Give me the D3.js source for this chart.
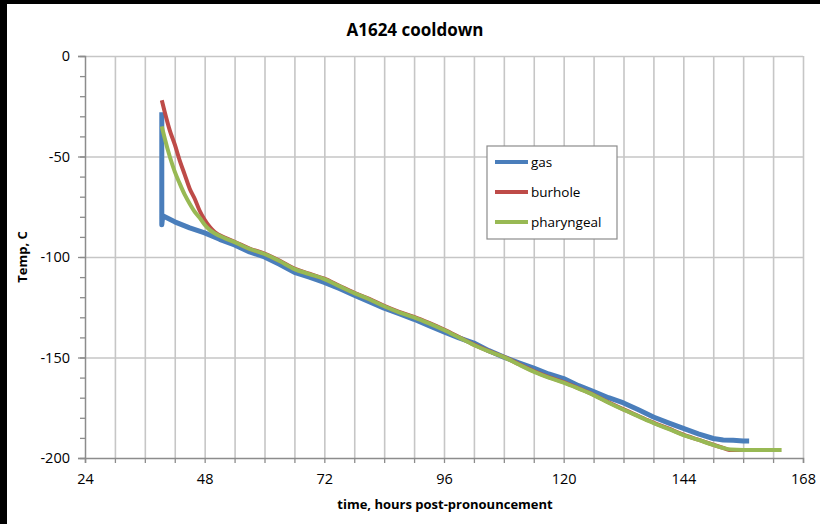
<!DOCTYPE html>
<html>
<head>
<meta charset="utf-8">
<script src="https://cdn.jsdelivr.net/npm/d3@7"></script>
<style>
  html, body { margin: 0; padding: 0; background: #fff; }
  svg { display: block; }
  text { font-family: "Open Sans", Lato, sans-serif; fill: #000; }
</style>
</head>
<body>
<svg id="chart" width="820" height="524"></svg>
<script>
// ---- data (hours post-pronouncement, temperature °C) ----
const seriesNames = ["gas", "burhole", "pharyngeal"];
const seriesColors = ["#4A7EBB", "#BE4B48", "#98B954"];

const gasHours = [39.4, 39.4, 39.6, 42, 45, 48, 51, 54, 57, 60, 63, 66, 69, 72, 75, 78, 81, 84, 87, 90, 93, 96, 99, 102, 105, 108, 111, 114, 117, 120, 123, 126, 129, 132, 135, 138, 141, 144, 147, 150, 152, 154, 156, 157.2];
const gasTemp  = [-28, -84, -79.5, -82.5, -85.5, -88, -91.2, -94, -97.5, -100, -103.6, -107.6, -110, -112.6, -115.7, -119, -122.2, -125.5, -128.2, -131, -134.2, -137.3, -140.2, -142.8, -146.6, -149.8, -152.6, -155.3, -158.2, -160.5, -164, -167, -170, -172.6, -176, -179.6, -182.5, -185.3, -188, -190.3, -191, -191.2, -191.5, -191.5];

const burholeHours = [39.4, 40, 41, 42, 43, 44, 45, 46, 47, 48, 49, 50, 52, 54, 57, 60, 63, 66, 69, 72, 75, 78, 81, 84, 87, 90, 93, 96, 99, 102, 105, 108, 111, 114, 117, 120, 123, 126, 129, 132, 135, 138, 141, 144, 147, 150, 152, 153.2, 156, 160, 163.6];
const burholeTemp  = [-22, -28, -37, -44, -52, -59, -66, -71, -77, -81.5, -85, -87.6, -90.3, -92.4, -95.8, -98.3, -101.8, -105.8, -108.3, -110.8, -114.3, -117.8, -120.8, -124.3, -127.3, -129.8, -132.8, -136.1, -139.8, -143.6, -146.8, -149.7, -153.3, -156.8, -159.8, -162.3, -165.3, -168.5, -172.3, -175.8, -179.1, -182.4, -185.3, -188.4, -190.9, -193.4, -195, -196, -196, -196, -196];

const pharyngealHours = [39.4, 40, 41, 42, 43, 44, 45, 46, 47, 48, 49, 50, 52, 54, 57, 60, 63, 66, 69, 72, 75, 78, 81, 84, 87, 90, 93, 96, 99, 102, 105, 108, 111, 114, 117, 120, 123, 126, 129, 132, 135, 138, 141, 144, 147, 150, 152, 153.5, 156, 160, 163.7];
const pharyngealTemp  = [-35, -41, -50, -57.5, -63.5, -69, -73.5, -77.5, -80.5, -84, -86.5, -88.2, -90.6, -92.6, -96, -98.5, -102, -106, -108.5, -111, -114.5, -118, -121, -124.5, -127.5, -130, -133, -136.3, -140, -143.8, -147, -149.8, -153.5, -157, -160, -162.5, -165.5, -168.7, -172.5, -176, -179.3, -182.6, -185.5, -188.6, -191, -193.5, -195, -195.8, -196, -196, -196];

const xTickLabels = [24, 48, 72, 96, 120, 144, 168];
const yTickLabels = [0, -50, -100, -150, -200];

const titleText = "A1624 cooldown";
const xTitle = "time, hours post-pronouncement";
const yTitle = "Temp, C";

// ---- layout ----
const svg = d3.select("#chart");
const W = 820, H = 524;
const plot = { left: 85, right: 803, top: 56, bottom: 458 };
const FONT = "'Open Sans', Lato, sans-serif";

// black frame strips seen at top/left of the reference
svg.append("rect").attr("x", 0).attr("y", 0).attr("width", W).attr("height", H).attr("fill", "#fff");
svg.append("rect").attr("x", 0).attr("y", 0).attr("width", W).attr("height", 4).attr("fill", "#000");
svg.append("rect").attr("x", 0).attr("y", 0).attr("width", 7).attr("height", H).attr("fill", "#000");

const x = d3.scaleLinear().domain([24, 168]).range([plot.left, plot.right]);
const y = d3.scaleLinear().domain([-200, 0]).range([plot.bottom, plot.top]);

const gridColor = "#c6c6c6";
const axisColor = "#8c8c8c";

// vertical gridlines every 6 h
const xMinor = d3.range(24, 168 + 0.01, 6);
svg.append("g")
  .attr("transform", `translate(0,${plot.bottom})`)
  .call(d3.axisBottom(x).tickValues(xMinor.slice(1)).tickSize(-(plot.bottom - plot.top)).tickFormat(""))
  .call(g => g.select(".domain").remove())
  .call(g => g.selectAll("line").attr("stroke", gridColor).attr("stroke-width", 1.6));

// horizontal gridlines every 50
svg.append("g")
  .attr("transform", `translate(${plot.left},0)`)
  .call(d3.axisLeft(y).tickValues(yTickLabels.filter(v => v !== -200)).tickSize(-(plot.right - plot.left)).tickFormat(""))
  .call(g => g.select(".domain").remove())
  .call(g => g.selectAll("line").attr("stroke", gridColor).attr("stroke-width", 1.6));

// y minor ticks every 10
svg.append("g")
  .attr("transform", `translate(${plot.left},0)`)
  .call(d3.axisLeft(y).tickValues(d3.range(-200, 1, 10)).tickSize(5).tickFormat(""))
  .call(g => g.select(".domain").remove())
  .call(g => g.selectAll("line").attr("stroke", axisColor).attr("stroke-width", 1.3));

// y axis with major labels
svg.append("g")
  .attr("transform", `translate(${plot.left},0)`)
  .call(d3.axisLeft(y).tickValues(yTickLabels).tickSize(7).tickPadding(8).tickFormat(d => d))
  .call(g => g.select(".domain").attr("stroke", axisColor).attr("stroke-width", 1.5))
  .call(g => g.selectAll("line").attr("stroke", axisColor).attr("stroke-width", 1.3))
  .call(g => g.selectAll("text").attr("font-size", 14.5).attr("fill", "#000").attr("font-family", FONT));

// x axis
svg.append("g")
  .attr("transform", `translate(0,${plot.bottom})`)
  .call(d3.axisBottom(x).tickValues(xMinor).tickSize(5).tickFormat(""))
  .call(g => g.select(".domain").attr("stroke", axisColor).attr("stroke-width", 1.5))
  .call(g => g.selectAll("line").attr("stroke", axisColor).attr("stroke-width", 1.3));

svg.append("g")
  .attr("transform", `translate(0,${plot.bottom})`)
  .call(d3.axisBottom(x).tickValues(xTickLabels).tickSize(0).tickPadding(16).tickFormat(d => d))
  .call(g => g.select(".domain").remove())
  .call(g => g.selectAll("text").attr("font-size", 14.5).attr("fill", "#000").attr("font-family", FONT));

// ---- series ----
const series = [
  { name: seriesNames[0], color: seriesColors[0], data: d3.zip(gasHours, gasTemp), w: 5, curve: d3.curveLinear },
  { name: seriesNames[1], color: seriesColors[1], data: d3.zip(burholeHours, burholeTemp), w: 4, curve: d3.curveMonotoneX },
  { name: seriesNames[2], color: seriesColors[2], data: d3.zip(pharyngealHours, pharyngealTemp), w: 4, curve: d3.curveMonotoneX }
];

svg.append("g").selectAll("path").data(series).join("path")
  .attr("d", s => d3.line().x(d => x(d[0])).y(d => y(d[1])).curve(s.curve)(s.data))
  .attr("fill", "none")
  .attr("stroke", s => s.color)
  .attr("stroke-width", s => s.w)
  .attr("stroke-linejoin", "round")
  .attr("stroke-linecap", "butt");

// ---- titles ----
svg.append("text").attr("x", 415).attr("y", 36).attr("text-anchor", "middle")
  .attr("font-weight", "bold").attr("font-size", 17).text(titleText);

svg.append("text").attr("x", 445).attr("y", 509).attr("text-anchor", "middle")
  .attr("font-weight", "bold").attr("font-size", 13).text(xTitle);

svg.append("text").attr("transform", `translate(27,${(plot.top + plot.bottom) / 2}) rotate(-90)`)
  .attr("text-anchor", "middle").attr("font-weight", "bold").attr("font-size", 13).text(yTitle);

// ---- legend ----
const lg = svg.append("g").attr("transform", "translate(487,146)");
lg.append("rect").attr("x", 0).attr("y", 0).attr("width", 130).attr("height", 93)
  .attr("fill", "#fff").attr("stroke", "#8c8c8c").attr("stroke-width", 1.2);
const items = lg.selectAll("g.item").data(series).join("g").attr("class", "item")
  .attr("transform", (d, i) => `translate(0,${16 + i * 30})`);
items.append("line").attr("x1", 8).attr("x2", 41).attr("y1", 0).attr("y2", 0)
  .attr("stroke", d => d.color).attr("stroke-width", 4);
items.append("text").attr("x", 44).attr("y", 4.5).attr("font-size", 13.5).text(d => d.name);
</script>
</body>
</html>
